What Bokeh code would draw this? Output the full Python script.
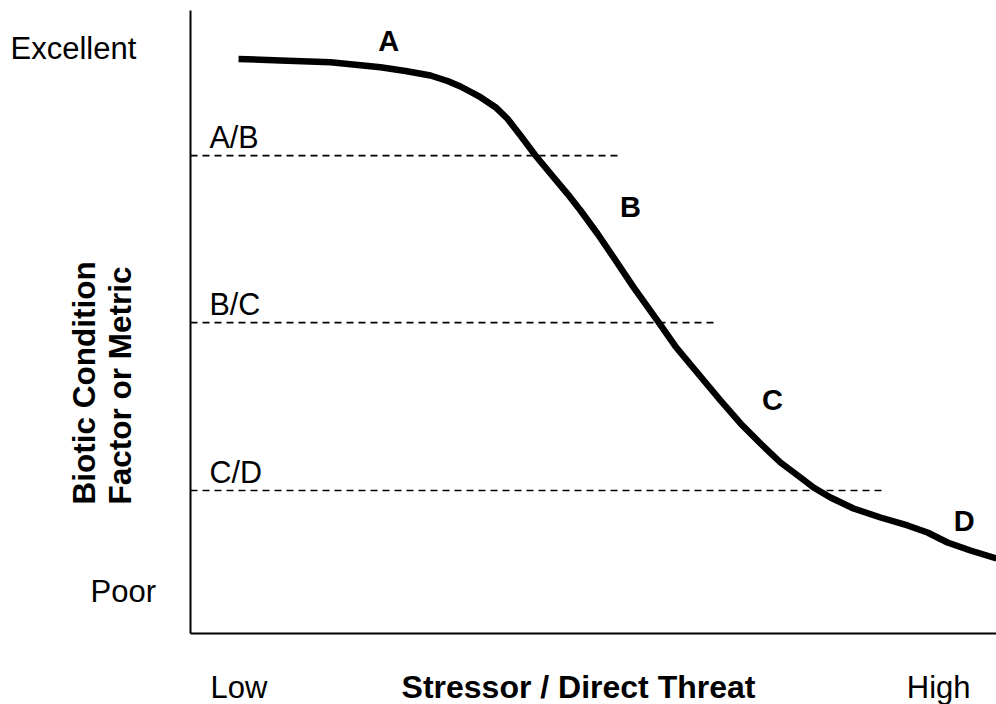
from bokeh.plotting import figure
from bokeh.models import Range1d, Label
from bokeh.core.properties import value
from bokeh.embed import file_html
from bokeh.resources import INLINE
import math

# ---- data (stressor 0-100 = Low..High, condition 0-100 = Poor..Excellent) ----
stressor = [5.96, 11.17, 17.37, 23.57, 26.67, 29.78, 31.89, 33.50, 35.98, 37.84, 39.33, 40.94,
            42.80, 45.04, 46.77, 48.39, 50.50, 52.48, 54.96, 58.06, 60.17, 62.03,
            65.76, 68.24, 70.72, 73.20, 75.68, 77.30, 79.40, 82.26, 85.61, 88.96,
            91.44, 93.92, 96.77, 100.0]
condition = [92.22, 91.97, 91.70, 90.90, 90.29, 89.57, 88.68, 87.80, 86.08, 84.48, 82.62, 79.94,
             76.73, 73.24, 70.58, 67.90, 64.16, 60.40, 55.59, 49.97, 46.07, 43.18,
             37.40, 33.71, 30.50, 27.45, 25.04, 23.43, 21.83, 20.06, 18.62, 17.34,
             16.21, 14.61, 13.32, 12.04]

zone_names = ["A", "B", "C", "D"]
zone_x = [24.6, 54.6, 72.2, 96.0]
zone_y = [95.1, 68.4, 37.5, 18.1]

threshold_names = ["A/B", "B/C", "C/D"]
threshold_values = [76.7, 49.9, 22.95]
threshold_extent = [53.0, 65.1, 86.0]

condition_labels = ["Excellent", "Poor"]
stressor_labels = ["Low", "High"]
x_title = "Stressor / Direct Threat"
y_title = ["Biotic Condition", "Factor or Metric"]

# ---- layout (pixels) ----
W, H = 996, 704
AX_LEFT, AX_RIGHT, AX_TOP, AX_BOTTOM = 190, 996, 10, 633
sx = (AX_RIGHT - AX_LEFT) / 100.0
sy = (AX_BOTTOM - AX_TOP) / 100.0
FONT = "Liberation Sans"

p = figure(width=W, height=H, output_backend="svg", toolbar_location=None,
           x_range=Range1d(-AX_LEFT / sx, (W - AX_LEFT) / sx),
           y_range=Range1d(-(H - AX_BOTTOM) / sy, AX_BOTTOM / sy),
           min_border=0)
p.xaxis.visible = False
p.yaxis.visible = False
p.background_fill_color = "white"
p.border_fill_color = "white"
p.outline_line_color = None
p.grid.visible = False

# axis lines (value 0 of each scale up to 100)
p.segment(x0=[0, 0], y0=[0, 0], x1=[0, 100], y1=[100, 0],
          line_color="black", line_width=2)

# threshold dashed lines
p.segment(x0=[0] * len(threshold_values), y0=threshold_values,
          x1=threshold_extent, y1=threshold_values,
          line_color="black", line_width=1.6, line_dash="7 5")

# response curve
p.line(stressor, condition, line_color="black", line_width=6.5,
       line_join="round", line_cap="butt")

# zone letters
p.text(x=zone_x, y=zone_y, text=zone_names, text_font=value(FONT),
       text_font_style="bold", text_font_size="29px", text_color="black",
       text_align="center", text_baseline="alphabetic")

# threshold labels
p.text(x=[0] * len(threshold_values), y=threshold_values, text=threshold_names,
       x_offset=19, y_offset=-18.5, text_font=value(FONT), text_font_size="30.5px",
       text_color="black", text_align="left", text_baseline="alphabetic")


def lab(text, x, y, bold=False, align="left", angle=0.0, size="31px"):
    # x from the left edge, y from the bottom edge, in pixels
    p.add_layout(Label(x=x, y=y, x_units="screen", y_units="screen", text=text,
                       text_font=FONT, text_font_size=size,
                       text_font_style="bold" if bold else "normal",
                       text_color="black", text_align=align,
                       text_baseline="alphabetic", angle=angle))


lab(condition_labels[0], 10, H - 47.5)
lab(condition_labels[1], 90, H - 591)
lab(stressor_labels[0], 210, H - 686.5)
lab(stressor_labels[1], 970, H - 686.5, align="right")
lab(x_title, 578, H - 686.5, bold=True, align="center", size="32px")
lab(y_title[0], 83.5, H - 504, bold=True, angle=math.pi / 2, size="31.5px")
lab(y_title[1], 119.5, H - 504, bold=True, angle=math.pi / 2, size="31.5px")

open("out.html", "w").write(file_html(p, INLINE))
